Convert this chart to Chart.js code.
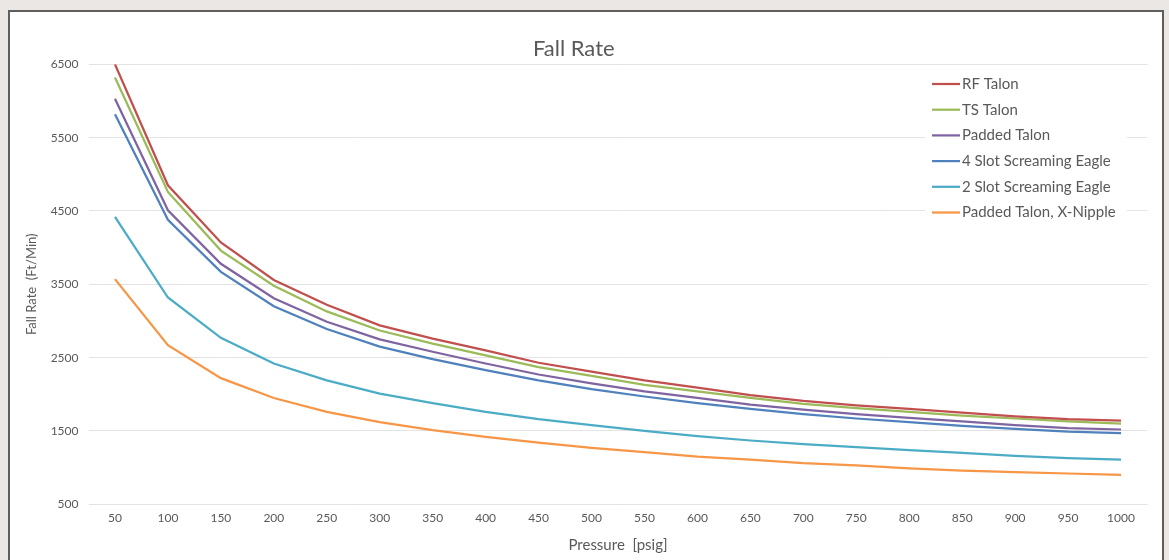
<!DOCTYPE html>
<html>
<head>
<meta charset="utf-8">
<script src="https://cdn.jsdelivr.net/npm/chart.js@4/dist/chart.umd.min.js"></script>
<style>
  body { margin: 0; background: #ebe7e5; width: 1169px; height: 560px; overflow: hidden; position: relative; }
  #frame { position: absolute; left: 8px; top: 10px; width: 1152px; height: 600px; border: 2px solid #5e5e5e; background: #fff; }
  #fallChart { position: absolute; left: 0; top: 0; }
</style>
</head>
<body>
<div id="frame"></div>
<canvas id="fallChart" width="1169" height="560"></canvas>
<script>
const pressures = [50, 100, 150, 200, 250, 300, 350, 400, 450, 500, 550, 600, 650, 700, 750, 800, 850, 900, 950, 1000];

const rfTalon      = [6500, 4850, 4070, 3560, 3220, 2940, 2760, 2600, 2430, 2310, 2190, 2090, 1990, 1910, 1850, 1800, 1750, 1700, 1660, 1640];
const tsTalon      = [6320, 4760, 3960, 3480, 3130, 2870, 2690, 2530, 2370, 2250, 2130, 2040, 1950, 1870, 1810, 1760, 1710, 1670, 1630, 1600];
const paddedTalon  = [6030, 4510, 3780, 3310, 2990, 2750, 2580, 2420, 2270, 2150, 2040, 1950, 1860, 1790, 1730, 1680, 1630, 1580, 1540, 1520];
const slot4Eagle   = [5820, 4380, 3670, 3200, 2890, 2650, 2480, 2330, 2190, 2070, 1970, 1880, 1800, 1730, 1670, 1620, 1570, 1530, 1490, 1470];
const slot2Eagle   = [4420, 3320, 2770, 2420, 2190, 2010, 1880, 1760, 1660, 1580, 1500, 1430, 1370, 1320, 1280, 1240, 1200, 1160, 1130, 1110];
const paddedXNip   = [3570, 2670, 2220, 1950, 1760, 1620, 1510, 1420, 1340, 1270, 1210, 1150, 1110, 1060, 1030,  990,  960,  940,  920,  900];

const seriesNames = ["RF Talon", "TS Talon", "Padded Talon", "4 Slot Screaming Eagle", "2 Slot Screaming Eagle", "Padded Talon, X-Nipple"];
const seriesColors = ["#c0504d", "#9bbb59", "#8064a2", "#4f81bd", "#4bacc6", "#f79646"];
const seriesValues = [rfTalon, tsTalon, paddedTalon, slot4Eagle, slot2Eagle, paddedXNip];

const textColor = "#595959";
const fontName = "Lato";

// legend sits inside the plot, top right, like the excel original
const insideLegend = {
  id: "insideLegend",
  afterDraw(chart) {
    const ctx = chart.ctx;
    ctx.save();
    ctx.fillStyle = "#ffffff";
    ctx.fillRect(925, 71, 202, 154);
    ctx.font = "15px " + fontName;
    ctx.textBaseline = "middle";
    ctx.textAlign = "left";
    chart.data.datasets.forEach((ds, i) => {
      const y = 84 + i * 25.7;
      ctx.strokeStyle = ds.borderColor;
      ctx.lineWidth = 2.25;
      ctx.beginPath();
      ctx.moveTo(932, y);
      ctx.lineTo(960, y);
      ctx.stroke();
      ctx.fillStyle = textColor;
      ctx.fillText(ds.label, 962, y);
    });
    ctx.restore();
  }
};

const datasets = seriesNames.map((name, i) => ({
  label: name,
  data: seriesValues[i],
  borderColor: seriesColors[i],
  backgroundColor: seriesColors[i],
  borderWidth: 2.25,
  pointRadius: 0,
  tension: 0,
  fill: false
}));

new Chart(document.getElementById("fallChart"), {
  type: "line",
  data: { labels: pressures, datasets: datasets },
  plugins: [insideLegend],
  options: {
    responsive: false,
    animation: false,
    devicePixelRatio: 1,
    layout: { padding: { left: 0, right: 21.5, top: 36, bottom: 0 } },
    plugins: {
      legend: { display: false },
      tooltip: { enabled: false },
      title: {
        display: true,
        text: "Fall Rate",
        color: textColor,
        font: { family: fontName, size: 22, weight: "normal" },
        padding: { top: 0, bottom: 1.9 }
      }
    },
    scales: {
      x: {
        offset: true,
        grid: { display: false, drawTicks: false },
        border: { display: false },
        ticks: { color: textColor, font: { family: fontName, size: 12 }, padding: 7, autoSkip: false, maxRotation: 0 },
        title: {
          display: true,
          text: "Pressure  [psig]",
          color: textColor,
          font: { family: fontName, size: 15 },
          padding: { top: 4, bottom: 6 }
        },
        afterFit(scale) { scale.height = 55.7; }
      },
      y: {
        min: 500,
        max: 6500,
        grid: { color: "#e3e3e3", lineWidth: 1, drawTicks: false },
        border: { display: false },
        ticks: {
          stepSize: 1000,
          color: textColor,
          font: { family: fontName, size: 12 },
          padding: 10,
          callback: value => String(value)
        },
        title: {
          display: true,
          text: "Fall Rate  (Ft/Min)",
          color: textColor,
          font: { family: fontName, size: 13 },
          padding: { top: 24, bottom: 0 }
        },
        afterFit(scale) { scale.width = 88.5; }
      }
    }
  }
});
</script>
</body>
</html>
